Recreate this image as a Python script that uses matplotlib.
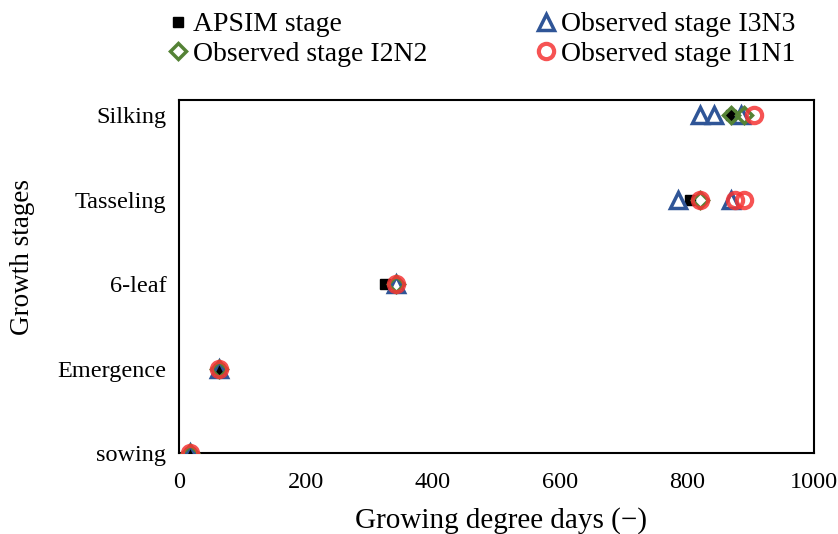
import matplotlib
matplotlib.use("Agg")
import matplotlib.pyplot as plt

stages = ["sowing", "Emergence", "6-leaf", "Tasseling", "Silking"]

# APSIM simulated GDD for each stage
apsim_gdd = [18, 63, 325, 805, 870]

# observed points: stage index and GDD
i3n3_stage = [0, 1, 2, 3, 3, 4, 4, 4]
i3n3_gdd = [18, 63, 342, 786, 870, 820, 842, 885]

i2n2_stage = [0, 1, 2, 3, 4, 4]
i2n2_gdd = [18, 63, 342, 820, 870, 890]

i1n1_stage = [0, 1, 2, 3, 3, 3, 4]
i1n1_gdd = [18, 63, 342, 820, 875, 890, 905]

plt.rcParams['font.family'] = ['Liberation Serif', 'DejaVu Serif']

fig = plt.figure(figsize=(8.38, 5.34), dpi=100)
ax = fig.add_axes([0.2136, 0.1517, 0.7578, 0.661])

ax.plot(apsim_gdd, range(len(stages)), 's', color='black', markersize=7,
        linestyle='none', label='APSIM stage', zorder=3)
ax.plot(i3n3_gdd, i3n3_stage, '^', color='#2F5597', markerfacecolor='none',
        markeredgewidth=2.5, markersize=11, linestyle='none',
        label='Observed stage I3N3', zorder=4)
ax.plot(i2n2_gdd, i2n2_stage, 'D', color='#548235', markerfacecolor='none',
        markeredgewidth=2.5, markersize=8, linestyle='none',
        label='Observed stage I2N2', zorder=5)
ax.plot(i1n1_gdd, i1n1_stage, 'o', color='#F53535', markerfacecolor='none',
        markeredgewidth=3, markersize=11, linestyle='none', alpha=0.85,
        label='Observed stage I1N1', zorder=6)

ax.set_xlim(0, 1000)
ax.set_ylim(0, 4.18)
ax.set_xticks([0, 200, 400, 600, 800, 1000])
ax.set_yticks(range(len(stages)))
ax.set_yticklabels(stages)
ax.tick_params(length=0, labelsize=17.5)
ax.tick_params(axis='x', pad=14)
ax.tick_params(axis='y', pad=9)
for s in ax.spines.values():
    s.set_linewidth(1.5)

ax.set_xlabel('Growing degree days (\u2212)', fontsize=21)
ax.xaxis.set_label_coords(0.507, -0.19)
ax.xaxis.label.set_va('center')
ax.set_ylabel('Growth stages', fontsize=19.5)
ax.yaxis.set_label_coords(-0.246, 0.555)
ax.yaxis.label.set_va('center')

h, l = ax.get_legend_handles_labels()
order = [0, 2, 1, 3]
fig.legend([h[i] for i in order], [l[i] for i in order], ncol=2,
           loc='upper left', bbox_to_anchor=(0.1993, 0.9775), frameon=False,
           fontsize=20, columnspacing=3.85, handletextpad=0.15,
           handlelength=0.8, labelspacing=0.15, borderpad=0,
           borderaxespad=0)

fig.savefig('out.png', dpi=100)
